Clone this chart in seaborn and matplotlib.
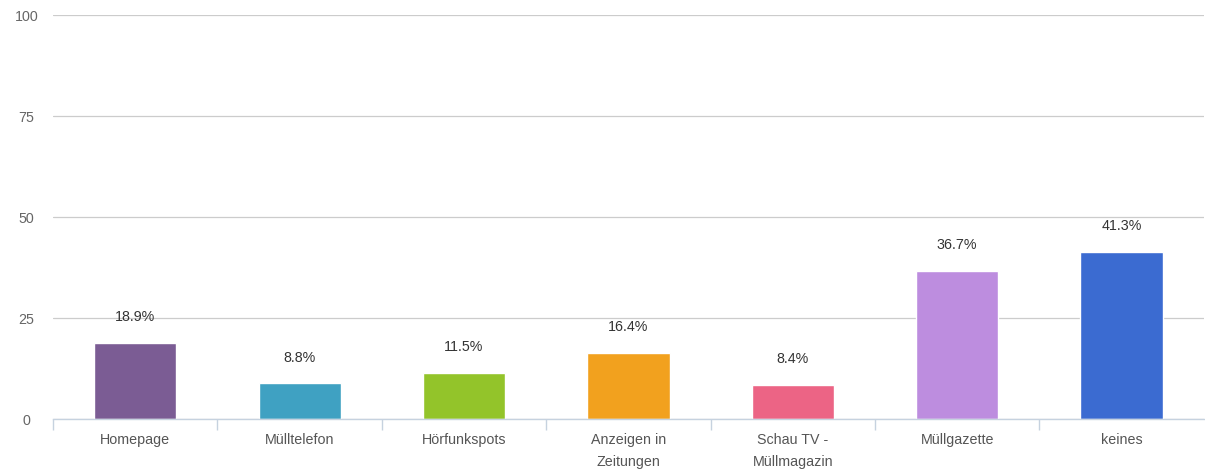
import pandas as pd
import seaborn as sns
import matplotlib.pyplot as plt
import numpy as np

# Data
categories = ["Homepage", "Mülltelefon", "Hörfunkspots", "Anzeigen in\nZeitungen",
              "Schau TV -\nMüllmagazin", "Müllgazette", "keines"]
values = [18.9, 8.8, 11.5, 16.4, 8.4, 36.7, 41.3]
colors = ["#7b5c94", "#3fa1c2", "#93c42a", "#f2a11e", "#ec6485", "#bd8ddf", "#3b6bd1"]
y_ticks = [0, 25, 50, 75, 100]

df = pd.DataFrame({"category": categories, "percent": values})

sns.set_style("white")
plt.rcParams["font.family"] = ["Liberation Sans", "DejaVu Sans"]

fig = plt.figure(figsize=(12.05, 4.69), dpi=100)
ax = fig.add_axes([0.044, 0.1066, 0.955, 0.8614])

sns.barplot(data=df, x="category", y="percent", hue="category", palette=colors,
            legend=False, width=0.5, saturation=1, ax=ax)

ax.set_ylim(0, 100)
ax.set_xlim(-0.5, len(categories) - 0.5)
ax.set_yticks(y_ticks)
ax.set_xlabel(None)
ax.set_ylabel(None)

# gridlines
ax.set_axisbelow(True)
ax.yaxis.grid(True, color="#cccccc", linewidth=0.9)
for s in ["top", "right", "left"]:
    ax.spines[s].set_visible(False)
ax.spines["bottom"].set_color("#c6d2df")
ax.spines["bottom"].set_linewidth(1.0)

# y tick labels centred left of axis
ax.tick_params(axis="y", left=False, length=0, pad=19, labelsize=10.3, labelcolor="#666666")
for lab in ax.get_yticklabels():
    lab.set_horizontalalignment("center")

# x tick labels, separator ticks between categories
ax.tick_params(axis="x", which="major", bottom=False, length=0, pad=10, labelsize=10.3,
               labelcolor="#555555")
for lab in ax.get_xticklabels():
    lab.set_linespacing(1.75)
ax.set_xticks(np.arange(-0.5, len(categories) - 0.5, 1.0), minor=True)
ax.tick_params(axis="x", which="minor", bottom=True, length=8, width=1, color="#c6d2df",
               direction="out")

# value labels above bars
for p in ax.patches:
    h = p.get_height()
    if np.isnan(h) or h == 0:
        continue
    ax.annotate("{:.1f}%".format(h), (p.get_x() + p.get_width() / 2, h),
                xytext=(0, 18.5), textcoords="offset points",
                ha="center", va="center", fontsize=10.3, color="#333333")

fig.savefig("out.png", dpi=100)
plt.close()
